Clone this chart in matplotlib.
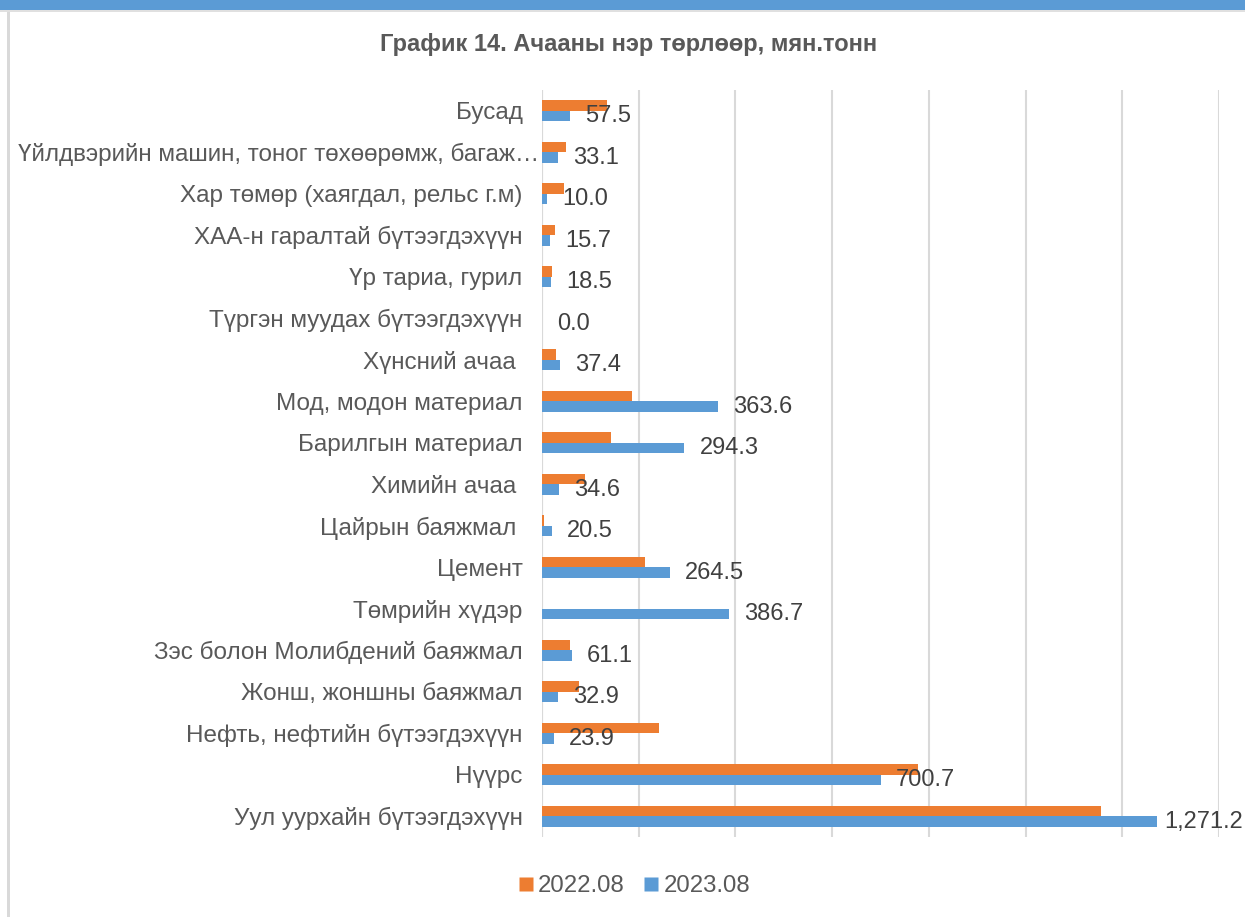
import matplotlib
matplotlib.use("Agg")
import matplotlib.pyplot as plt
import matplotlib.transforms as mtransforms
from matplotlib.patches import Rectangle
from matplotlib.lines import Line2D
import numpy as np

plt.rcParams['font.family'] = ['Liberation Sans', 'DejaVu Sans']

categories = [
    "Бусад",
    "Үйлдвэрийн машин, тоног төхөөрөмж, багаж…",
    "Хар төмөр (хаягдал, рельс г.м)",
    "ХАА-н гаралтай бүтээгдэхүүн",
    "Үр тариа, гурил",
    "Түргэн муудах бүтээгдэхүүн",
    "Хүнсний ачаа ",
    "Мод, модон материал",
    "Барилгын материал",
    "Химийн ачаа ",
    "Цайрын баяжмал ",
    "Цемент",
    "Төмрийн хүдэр",
    "Зэс болон Молибдений баяжмал",
    "Жонш, жоншны баяжмал",
    "Нефть, нефтийн бүтээгдэхүүн",
    "Нүүрс",
    "Уул уурхайн бүтээгдэхүүн",
]
values_2022 = [134, 49, 45, 26, 21, 0, 28, 186, 143, 89, 5, 213, 0, 57, 77, 241, 777, 1155]
values_2023 = [57.5, 33.1, 10.0, 15.7, 18.5, 0.0, 37.4, 363.6, 294.3, 34.6, 20.5, 264.5,
               386.7, 61.1, 32.9, 23.9, 700.7, 1271.2]
series_names = ["2022.08", "2023.08"]

ORANGE = "#ED7D31"
BLUE = "#5B9BD5"
GRID = "#D9D9D9"
TXT = "#595959"
LBL = "#404040"

W, H = 1245, 917
fig = plt.figure(figsize=(W / 100, H / 100), dpi=100)

# frame decorations
fig.patches.append(Rectangle((0, 1 - 1.5 / H), 1, 1.5 / H, transform=fig.transFigure,
                             facecolor=BLUE, edgecolor='none'))
fig.patches.append(Rectangle((0, 1 - 10 / H), 1, 7.5 / H, transform=fig.transFigure,
                             facecolor=BLUE, edgecolor='none'))
fig.patches.append(Rectangle((0, 1 - 11.5 / H), 1, 1.5 / H, transform=fig.transFigure,
                             facecolor="#E0E0E0", edgecolor='none'))
fig.patches.append(Rectangle((7 / W, 0), 2.5 / W, 1 - 11.5 / H, transform=fig.transFigure,
                             facecolor="#D9D9D9", edgecolor='none'))

ax = fig.add_axes([542 / W, 1 - 837 / H, (1219 - 542) / W, (837 - 90) / H])

y = np.arange(len(categories))
bh = 0.258
ax.barh(y - bh / 2, values_2022, height=bh, color=ORANGE, zorder=3, label=series_names[0])
ax.barh(y + bh / 2, values_2023, height=bh, color=BLUE, zorder=3, label=series_names[1])

ax.set_xlim(0, 1400)
ax.set_ylim(len(categories) - 0.5, -0.5)
ax.set_xticks(np.arange(0, 1401, 200))
ax.set_xticklabels([])
ax.tick_params(axis='x', length=0)
ax.tick_params(axis='y', length=0, pad=14)
ax.set_yticks(y)
ax.set_yticklabels(categories, fontsize=17.5, color=TXT)
ax.grid(axis='x', color=GRID, linewidth=1.5, zorder=0)
for s in ax.spines.values():
    s.set_visible(False)
ax.axvline(0, color=GRID, linewidth=1.5, zorder=2)

# the truncated long label sits a little further right in the original
for lab in ax.get_yticklabels():
    if lab.get_text().endswith("…"):
        lab.set_transform(lab.get_transform() +
                          mtransforms.ScaledTranslation(17 / 100, 0, fig.dpi_scale_trans))

labels = []
for yi, v in zip(y, values_2023):
    t = ax.annotate(f"{v:,.1f}", xy=(v, yi + bh / 2), xytext=(11, 0), textcoords='offset points',
                    ha='left', va='center', fontsize=17, color=LBL, zorder=4,
                    annotation_clip=False)
    labels.append(t)

fig.text(629 / W, 1 - 45 / H, "График 14. Ачааны нэр төрлөөр, мян.тонн", ha='center',
         va='center', fontsize=17, fontweight='bold', color=TXT)

handles = [Line2D([0], [0], marker='s', linestyle='none', markersize=9.4, markerfacecolor=ORANGE,
                  markeredgecolor='none'),
           Line2D([0], [0], marker='s', linestyle='none', markersize=9.4, markerfacecolor=BLUE,
                  markeredgecolor='none')]
fig.legend(handles, series_names, loc='center', bbox_to_anchor=(632 / W, 1 - 886 / H),
           ncol=2, frameon=False, fontsize=17.3, labelcolor=TXT, handletextpad=0.0,
           columnspacing=0.6, handlelength=1.0)

# keep data labels inside the figure (as the original's renderer does)
fig.canvas.draw()
renderer = fig.canvas.get_renderer()
fig_w = fig.bbox.width
for t in labels:
    bb = t.get_window_extent(renderer)
    if bb.x1 > fig_w - 2:
        shift_pts = (bb.x1 - (fig_w - 2)) * 72 / fig.dpi
        t.set_position((11 - shift_pts, 0))

fig.savefig("out.png", dpi=100, facecolor='white')
